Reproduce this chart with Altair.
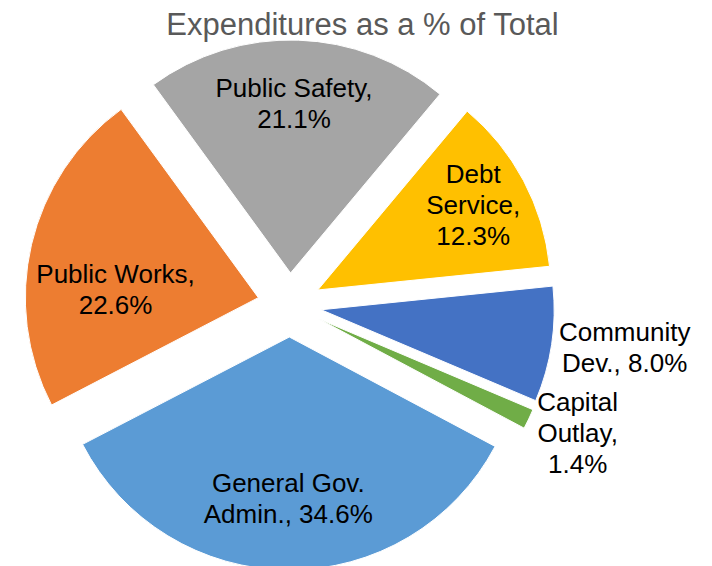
import altair as alt
import pandas as pd

# ---------------- data ----------------
categories = ["General Gov. Admin.", "Public Works", "Public Safety",
              "Debt Service", "Community Dev.", "Capital Outlay"]
shares = [34.6, 22.6, 21.1, 12.3, 8.0, 1.4]
labels = ["General Gov.\nAdmin., 34.6%", "Public Works,\n22.6%", "Public Safety,\n21.1%",
          "Debt\nService,\n12.3%", "Community\nDev., 8.0%", "Capital\nOutlay,\n1.4%"]
TITLE = "Expenditures as a % of Total"

# ---------------- style ----------------
colors = ["#5B9BD5", "#ED7D31", "#A5A5A5", "#FFC000", "#4472C4", "#70AD47"]
FONT = "Liberation Sans"
W, H = 696, 558
CX, CY = 281.5, 297
R = 233
START_DEG = 118
EXPLODE = 32
LINE_H = 31
LABEL_SHIFT_X = 2
# label placement: distance from slice apex (px) and angle tweak (deg)
LABEL_R = {"General Gov. Admin.": 162.5, "Public Works": 145, "Public Safety": 169,
           "Debt Service": 175, "Community Dev.": 304, "Capital Outlay": 282}
LABEL_DA = {"General Gov. Admin.": 0.8, "Public Works": -10.4, "Public Safety": -1.4,
            "Debt Service": -0.8, "Community Dev.": -1.25, "Capital Outlay": -1.3}


def case(mapping, default):
    expr = str(default)
    for k, v in mapping.items():
        expr = f"(datum.category === '{k}' ? {v} : {expr})"
    return expr


df = pd.DataFrame({"category": categories, "share": shares, "label": labels,
                   "order": list(range(len(categories)))})

base = (
    alt.Chart(df)
    .transform_joinaggregate(total="sum(share)")
    .transform_window(cum="sum(share)", sort=[alt.SortField("order")], frame=[None, 0])
    .transform_calculate(t1=f"{START_DEG}*PI/180 + 2*PI*datum.cum/datum.total")
    .transform_calculate(t0="datum.t1 - 2*PI*datum.share/datum.total")
    .transform_calculate(mid="(datum.t0 + datum.t1)/2")
    .transform_calculate(ax=f"{CX} + {EXPLODE}*sin(datum.mid)")
    .transform_calculate(ay=f"{CY} - {EXPLODE}*cos(datum.mid)")
)

arcs = base.mark_arc(radius=R, stroke="white", strokeWidth=1).encode(
    x=alt.X("ax:Q", scale=None),
    y=alt.Y("ay:Q", scale=None),
    theta=alt.Theta("t0:Q", scale=None, stack=None),
    theta2=alt.Theta2("t1:Q"),
    color=alt.Color("category:N", scale=alt.Scale(domain=categories, range=colors), legend=None),
)

text = (
    base.transform_calculate(lr=case(LABEL_R, 170))
    .transform_calculate(la=case(LABEL_DA, 0))
    .transform_calculate(nl="length(split(datum.label, '\\n'))")
    .transform_calculate(lang="datum.mid + datum.la*PI/180")
    .transform_calculate(lx=f"datum.ax + datum.lr*sin(datum.lang) + {LABEL_SHIFT_X}")
    .transform_calculate(ly=f"datum.ay - datum.lr*cos(datum.lang) - (datum.nl - 1)*{LINE_H}/2")
    .mark_text(font=FONT, fontSize=26, lineBreak="\n", lineHeight=LINE_H,
               align="center", baseline="middle", color="#000000")
    .encode(x=alt.X("lx:Q", scale=None), y=alt.Y("ly:Q", scale=None), text="label:N")
)

title = alt.Chart(pd.DataFrame({"t": [TITLE]})).mark_text(
    font=FONT, fontSize=31, color="#595959", align="center", baseline="alphabetic"
).encode(x=alt.value(354.5), y=alt.value(27), text="t:N")

chart = (
    alt.layer(arcs, text, title)
    .properties(width=W, height=H, padding=0, autosize=alt.AutoSizeParams(type="none"))
    .configure_view(stroke=None)
)

chart.save("out.html", embed_options={"renderer": "svg", "actions": False})
